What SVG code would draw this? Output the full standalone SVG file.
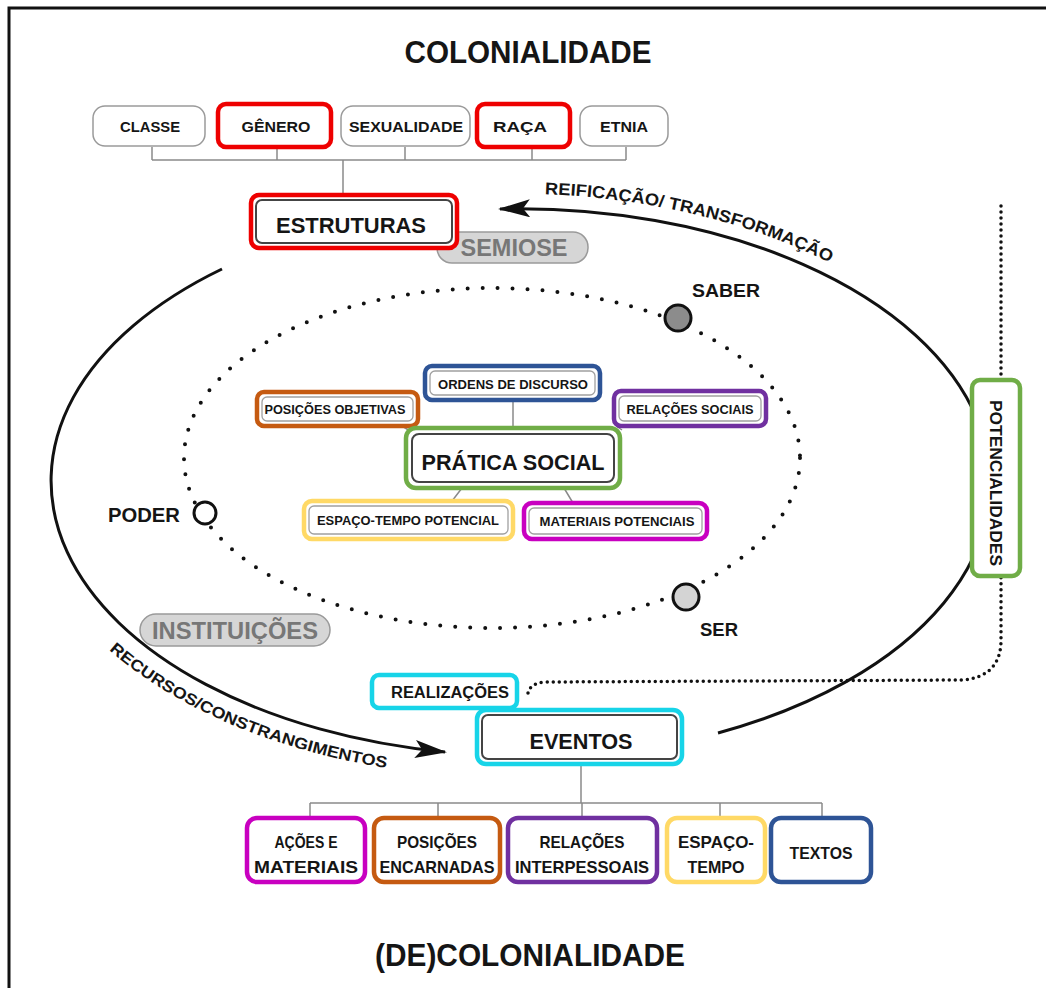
<svg xmlns="http://www.w3.org/2000/svg" width="1046" height="988" viewBox="0 0 1046 988">
<style>
.t{font-family:"Liberation Sans",Arial,sans-serif;font-weight:bold;fill:#151515;text-anchor:middle}
.gt{fill:#777}
.box{fill:#fff;stroke:#9a9a9a;stroke-width:1.5}
.cb{fill:#fff;stroke-width:4.5}
.inner{fill:none;stroke:#a0a0a0;stroke-width:1.3}
.innerd{fill:none;stroke:#444;stroke-width:2}
.pill{fill:#d6d6d6;stroke:#9a9a9a;stroke-width:1.5}
.conn{fill:none;stroke:#8a8a8a;stroke-width:1.5}
.arc{fill:none;stroke:#111;stroke-width:3}
.dots{fill:none;stroke:#111;stroke-width:4;stroke-linecap:round;stroke-dasharray:0 15}
.dots2{fill:none;stroke:#111;stroke-width:3.5;stroke-linecap:round;stroke-dasharray:0 6}
.node{stroke:#111;stroke-width:3}
.red{stroke:#ee0000}.blue{stroke:#2e5496}.orange{stroke:#c55a11}.purple{stroke:#7030a0}
.green{stroke:#70ad47}.yellow{stroke:#ffd966}.magenta{stroke:#c800c0}.cyan{stroke:#17d4e8}
</style>
<defs>
<marker id="ah" markerUnits="userSpaceOnUse" viewBox="0 0 32 18" markerWidth="32" markerHeight="18" refX="30" refY="9" orient="auto">
<path d="M0,0 L32,9 L0,18 L7,9 Z" fill="#111"/>
</marker>
<path id="tp1" d="M429,198 A488,291 0 0 1 1000,460"/>
<path id="tp2" d="M53.5,585 A490,293 0 0 0 557,777"/>
</defs>
<rect width="1046" height="988" fill="#fff"/>
<path d="M9,988 L9,8 L1046,8" fill="none" stroke="#111" stroke-width="3"/>

<text class="t" x="528" y="63" font-size="32" textLength="247" lengthAdjust="spacingAndGlyphs">COLONIALIDADE</text>
<text class="t" x="530" y="966" font-size="32" textLength="310" lengthAdjust="spacingAndGlyphs">(DE)COLONIALIDADE</text>

<g id="connectors">
<path class="conn" d="M152,147 V160 M277,147 V160 M405,147 V160 M532,147 V160 M626,147 V160 M152,160 H626 M343,160 V195"/>
<path class="conn" d="M513,400 V428 M402,426 L410,431 M616,426 L622,430 M462,488 L452,501 M564,488 L573,503"/>
<path class="conn" d="M581,764 V803 M310,803 H822 M310,803 V818 M438,803 V818 M582,803 V818 M720,803 V818 M822,803 V818"/>
<path class="arc" d="M222,269 A472,275 0 0 0 445,752" marker-end="url(#ah)"/>
<path class="arc" d="M718,733 A472,275 0 0 0 500,209" marker-end="url(#ah)"/>
<ellipse class="dots" cx="492" cy="458" rx="308" ry="170"/>
<path class="dots2" d="M528,693 Q530,683 546,682 L962,680 Q1001,677 1001,640 L1001,577 M1001,380 L1001,200"/>
<text class="t" font-size="17"><textPath href="#tp1" startOffset="116" textLength="295" lengthAdjust="spacingAndGlyphs" style="text-anchor:start">REIFICAÇÃO/ TRANSFORMAÇÃO</textPath></text>
<text class="t" font-size="16"><textPath href="#tp2" startOffset="86" textLength="305" lengthAdjust="spacingAndGlyphs" style="text-anchor:start">RECURSOS/CONSTRANGIMENTOS</textPath></text>
</g>

<g id="classe"><rect class="box" x="93" y="106" width="112" height="40" rx="12"/><text class="t" x="150" y="132" font-size="15" textLength="60" lengthAdjust="spacingAndGlyphs">CLASSE</text></g>
<g id="genero"><rect class="cb red" x="218" y="104" width="113" height="43" rx="8"/><text class="t" x="276" y="132" font-size="15" textLength="69" lengthAdjust="spacingAndGlyphs">GÊNERO</text></g>
<g id="sexualidade"><rect class="box" x="341" y="106" width="129" height="40" rx="12"/><text class="t" x="406" y="132" font-size="15" textLength="114" lengthAdjust="spacingAndGlyphs">SEXUALIDADE</text></g>
<g id="raca"><rect class="cb red" x="477" y="104" width="93" height="43" rx="8"/><text class="t" x="520" y="132" font-size="15" textLength="54" lengthAdjust="spacingAndGlyphs">RAÇA</text></g>
<g id="etnia"><rect class="box" x="580" y="106" width="88" height="40" rx="12"/><text class="t" x="624" y="132" font-size="15" textLength="48" lengthAdjust="spacingAndGlyphs">ETNIA</text></g>

<g id="semiose"><rect class="pill" x="437" y="232" width="151" height="31" rx="15"/><text class="t gt" x="514" y="256" font-size="23" textLength="107" lengthAdjust="spacingAndGlyphs">SEMIOSE</text></g>
<g id="estruturas"><rect class="cb red" x="251" y="195" width="206" height="53" rx="8"/><rect class="innerd" x="256" y="200" width="196" height="43" rx="6" stroke="#555" stroke-width="1.2"/><text class="t" x="351" y="233" font-size="22" textLength="150" lengthAdjust="spacingAndGlyphs">ESTRUTURAS</text></g>

<g id="instituicoes"><rect class="pill" x="140" y="614" width="190" height="32" rx="16"/><text class="t gt" x="235" y="639" font-size="23" textLength="166" lengthAdjust="spacingAndGlyphs">INSTITUIÇÕES</text></g>

<g id="saber"><circle class="node" cx="678" cy="318" r="13" fill="#8c8c8c"/><text class="t" x="726" y="297" font-size="19" textLength="68" lengthAdjust="spacingAndGlyphs">SABER</text></g>
<g id="poder"><circle class="node" cx="205" cy="513" r="11" fill="#fff"/><text class="t" x="180" y="522" font-size="19.5" textLength="72" lengthAdjust="spacingAndGlyphs" style="text-anchor:end">PODER</text></g>
<g id="ser"><circle class="node" cx="686" cy="597" r="13" fill="#d4d4d4"/><text class="t" x="719" y="636" font-size="19" textLength="38" lengthAdjust="spacingAndGlyphs">SER</text></g>

<g id="ordens"><rect class="cb blue" x="425" y="366" width="175" height="34" rx="7"/><rect class="inner" x="430" y="371" width="165" height="24" rx="5"/><text class="t" x="513" y="389" font-size="12.5" textLength="150" lengthAdjust="spacingAndGlyphs">ORDENS DE DISCURSO</text></g>
<g id="posicoes-objetivas"><rect class="cb orange" x="257" y="392" width="161" height="34" rx="7"/><rect class="inner" x="262" y="397" width="151" height="24" rx="5"/><text class="t" x="335" y="414" font-size="12.5" textLength="141" lengthAdjust="spacingAndGlyphs">POSIÇÕES OBJETIVAS</text></g>
<g id="relacoes-sociais"><rect class="cb purple" x="614" y="391" width="152" height="35" rx="7"/><rect class="inner" x="619" y="396" width="142" height="25" rx="5"/><text class="t" x="690" y="414" font-size="12.5" textLength="127" lengthAdjust="spacingAndGlyphs">RELAÇÕES SOCIAIS</text></g>
<g id="pratica-social"><rect class="cb green" x="406" y="428" width="214" height="60" rx="10"/><rect class="innerd" x="412" y="434" width="202" height="48" rx="7"/><text class="t" x="513" y="470" font-size="22" textLength="183" lengthAdjust="spacingAndGlyphs">PRÁTICA SOCIAL</text></g>
<g id="espaco-tempo-potencial"><rect class="cb yellow" x="304" y="501" width="209" height="38" rx="8"/><rect class="inner" x="309" y="506" width="199" height="28" rx="5"/><text class="t" x="408" y="525" font-size="12.5" textLength="182" lengthAdjust="spacingAndGlyphs">ESPAÇO-TEMPO POTENCIAL</text></g>
<g id="materiais-potenciais"><rect class="cb magenta" x="524" y="503" width="183" height="36" rx="8"/><rect class="inner" x="529" y="508" width="173" height="26" rx="5"/><text class="t" x="617" y="526" font-size="12.5" textLength="155" lengthAdjust="spacingAndGlyphs">MATERIAIS POTENCIAIS</text></g>

<g id="potencialidades"><rect class="cb green" x="972" y="380" width="48" height="196" rx="8"/><text class="t" transform="translate(990,483) rotate(90)" x="0" y="0" font-size="16" textLength="166" lengthAdjust="spacingAndGlyphs">POTENCIALIDADES</text></g>

<g id="realizacoes"><rect class="cb cyan" x="372" y="675" width="145" height="33" rx="7"/><text class="t" x="450" y="698" font-size="16" textLength="118" lengthAdjust="spacingAndGlyphs">REALIZAÇÕES</text></g>
<g id="eventos"><rect class="cb cyan" x="477" y="710" width="205" height="54" rx="9"/><rect class="innerd" x="482" y="715" width="195" height="44" rx="6" stroke-width="1.2"/><text class="t" x="581" y="749" font-size="22" textLength="103" lengthAdjust="spacingAndGlyphs">EVENTOS</text></g>

<g id="acoes-materiais"><rect class="cb magenta" x="247" y="818" width="118" height="64" rx="10"/><text class="t" x="306" y="848" font-size="17" textLength="63" lengthAdjust="spacingAndGlyphs">AÇÕES E</text><text class="t" x="306" y="873" font-size="17" textLength="104" lengthAdjust="spacingAndGlyphs">MATERIAIS</text></g>
<g id="posicoes-encarnadas"><rect class="cb orange" x="374" y="818" width="126" height="64" rx="10"/><text class="t" x="437" y="848" font-size="17" textLength="80" lengthAdjust="spacingAndGlyphs">POSIÇÕES</text><text class="t" x="437" y="873" font-size="17" textLength="115" lengthAdjust="spacingAndGlyphs">ENCARNADAS</text></g>
<g id="relacoes-interpessoais"><rect class="cb purple" x="508" y="818" width="149" height="64" rx="10"/><text class="t" x="582" y="848" font-size="17" textLength="85" lengthAdjust="spacingAndGlyphs">RELAÇÕES</text><text class="t" x="582" y="873" font-size="17" textLength="134" lengthAdjust="spacingAndGlyphs">INTERPESSOAIS</text></g>
<g id="espaco-tempo"><rect class="cb yellow" x="667" y="818" width="98" height="64" rx="10"/><text class="t" x="716" y="848" font-size="17" textLength="76" lengthAdjust="spacingAndGlyphs">ESPAÇO-</text><text class="t" x="716" y="873" font-size="17" textLength="57" lengthAdjust="spacingAndGlyphs">TEMPO</text></g>
<g id="textos"><rect class="cb blue" x="771" y="818" width="100" height="64" rx="10"/><text class="t" x="821" y="859" font-size="17" textLength="63" lengthAdjust="spacingAndGlyphs">TEXTOS</text></g>
</svg>
